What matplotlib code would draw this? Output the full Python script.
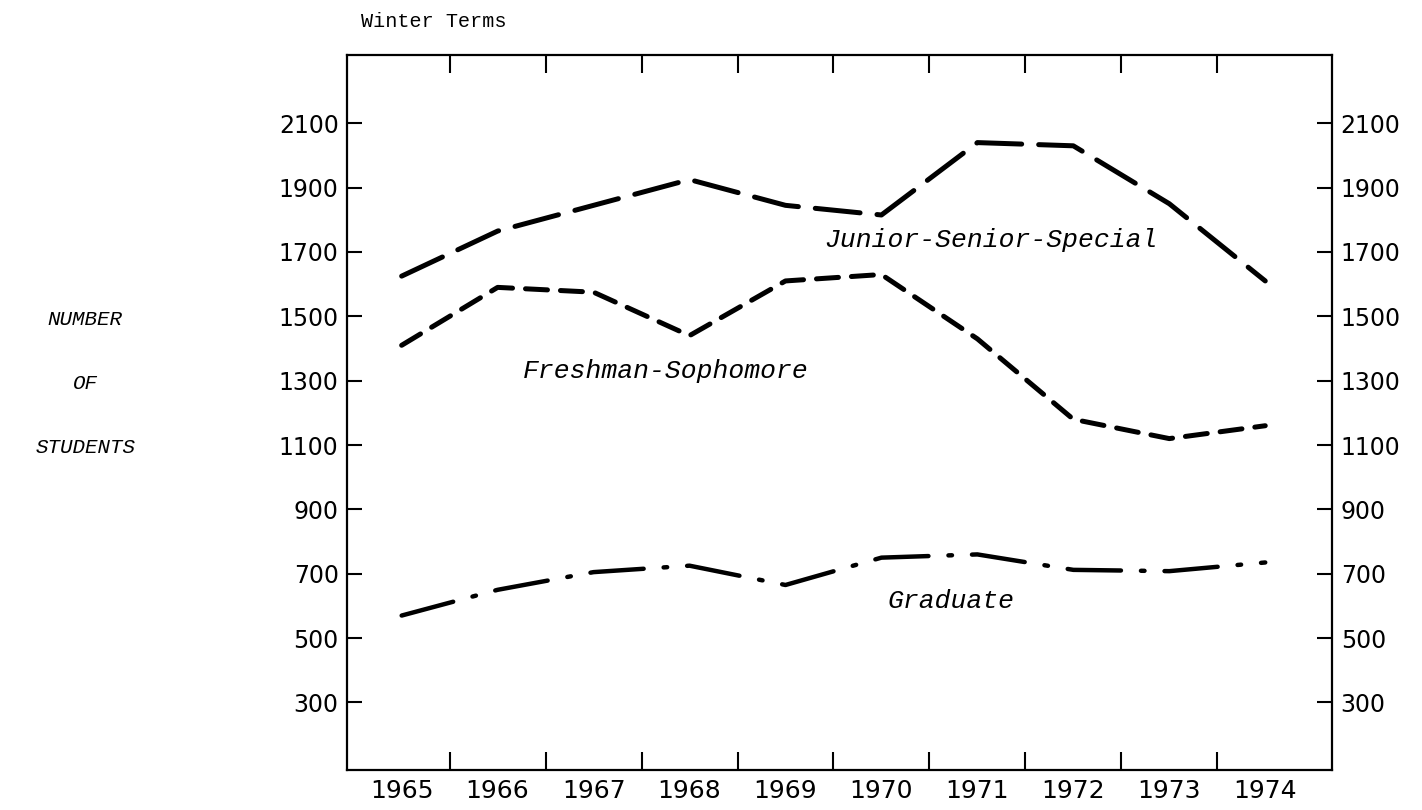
import matplotlib
matplotlib.use("Agg")
import matplotlib.pyplot as plt

# ── data (winter terms, number of students) ──────────────────
years = [1965, 1966, 1967, 1968, 1969, 1970, 1971, 1972, 1973, 1974]
junior_senior = [1625, 1765, 1845, 1925, 1845, 1815, 2040, 2030, 1850, 1610]
freshman_soph = [1410, 1590, 1575, 1440, 1610, 1630, 1430, 1180, 1120, 1160]
graduate = [570, 650, 705, 725, 665, 750, 760, 712, 708, 735]

y_ticks = list(range(300, 2101, 200))

TYPE_FONT = dict(family="Liberation Mono", style="italic", color="black")

fig = plt.figure(figsize=(14.22, 8.10), dpi=100)
ax = fig.add_axes([0.244, 0.049, 0.693, 0.883])

ax.plot(years, junior_senior, color="black", lw=3.6,
        dashes=(9, 3.4), dash_capstyle="round")
ax.plot(years, freshman_soph, color="black", lw=3.6,
        dashes=(4.4, 2.6), dash_capstyle="round")
ax.plot(years, graduate, color="black", lw=3.2,
        dashes=(12, 4.5, 0.8, 4.5), dash_capstyle="round")

ax.set_xlim(1964.43, 1974.70)
ax.set_ylim(89, 2312)

# year labels without marks, small marks between the years
ax.set_xticks(years)
ax.set_xticklabels([str(y) for y in years], fontsize=18)
ax.set_xticks([y + 0.5 for y in years[:-1]], minor=True)
ax.tick_params(axis="x", which="major", length=0, pad=6)
ax.tick_params(axis="x", which="minor", direction="in", length=13,
               width=1.5, top=True, bottom=True)

ax.set_yticks(y_ticks)
ax.set_yticklabels([str(v) for v in y_ticks], fontsize=17)
ax.tick_params(axis="y", which="major", direction="in", length=11,
               width=1.5, left=True, right=True, labelleft=True,
               labelright=True, pad=6)

for sp in ax.spines.values():
    sp.set_linewidth(1.6)

ax.text(1971.14, 1736, "Junior-Senior-Special", fontsize=19,
        ha="center", va="center", **TYPE_FONT)
ax.text(1967.75, 1330, "Freshman-Sophomore", fontsize=19,
        ha="center", va="center", **TYPE_FONT)
ax.text(1970.72, 616, "Graduate", fontsize=19,
        ha="center", va="center", **TYPE_FONT)

fig.text(0.305, 0.974, "Winter Terms", fontsize=14.5, ha="center",
         va="center", family="Liberation Mono")

fig.text(0.06, 0.605, "NUMBER", fontsize=15, ha="center", va="center",
         **TYPE_FONT)
fig.text(0.06, 0.527, "OF", fontsize=15, ha="center", va="center",
         **TYPE_FONT)
fig.text(0.06, 0.448, "STUDENTS", fontsize=15, ha="center", va="center",
         **TYPE_FONT)

fig.savefig("out.png", dpi=100, facecolor="white")
